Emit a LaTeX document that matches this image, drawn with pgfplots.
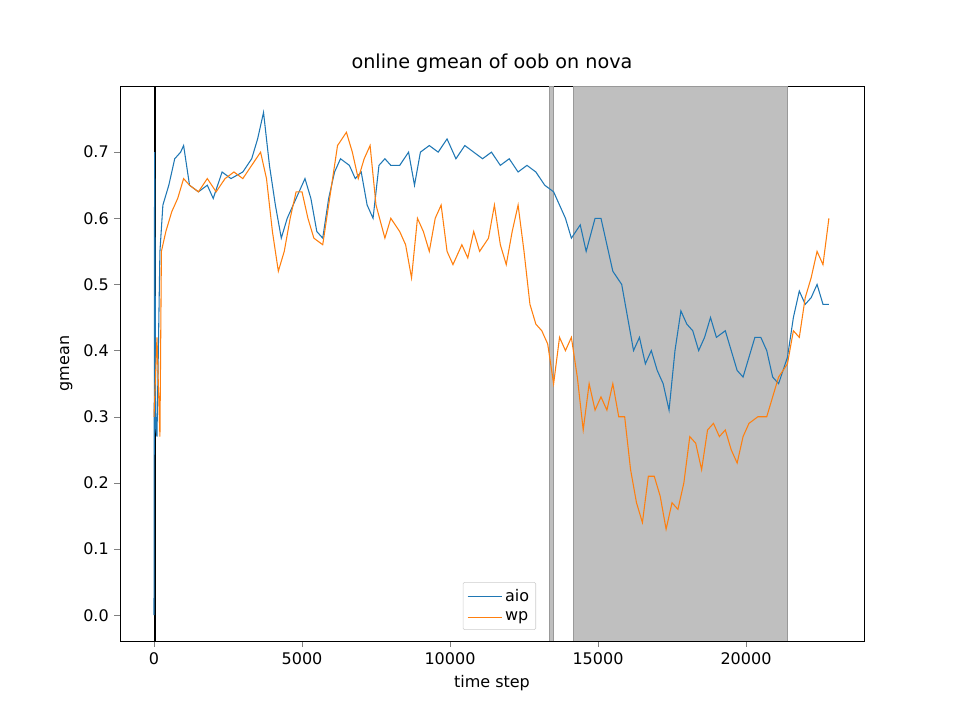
\documentclass[border=0pt]{standalone}
\usepackage{pgfplots}
\pgfplotsset{compat=1.18}
\usepackage{fontspec}
\setmainfont{DejaVu Sans}
\definecolor{mblue}{HTML}{1F77B4}
\definecolor{morange}{HTML}{FF7F0E}
\begin{document}
\fontsize{12}{14}\selectfont
\begin{tikzpicture}
\path (-90pt,-59.25pt) rectangle (630pt,480.75pt);
\begin{axis}[
  at={(0,0)}, anchor=south west, scale only axis,
  width=558pt, height=416.25pt,
  xmin=-1149, xmax=23986, ymin=-0.039, ymax=0.800,
  xtick={0,5000,10000,15000,20000},
  ytick={0,0.1,0.2,0.3,0.4,0.5,0.6,0.7},
  yticklabel style={/pgf/number format/.cd,fixed,fixed zerofill,precision=1},
  /pgf/number format/assume math mode=true,
  ticklabel style={font=\fontsize{12}{14}\selectfont},
  label style={font=\fontsize{12}{14}\selectfont},
  scaled x ticks=false,
  xticklabel style={/pgf/number format/1000 sep={}},
  tick align=outside, tick pos=left,
  xlabel={time step}, ylabel={gmean},
  title={online gmean of oob on nova},
  title style={font=\fontsize{14.4}{16}\selectfont},
  legend style={at={(0.51,0.02)}, anchor=south, draw=black!20, rounded corners=1pt, font=\fontsize{12}{14}\selectfont, inner sep=3pt, row sep=2pt},
  legend image post style={xscale=1.5},
  legend cell align=left,
]
\addplot[fill=gray!50, draw=gray!80, forget plot] coordinates {(13345,-0.039) (13480,-0.039) (13480,0.8) (13345,0.8)} -- cycle;
\addplot[fill=gray!50, draw=gray!80, forget plot] coordinates {(14155,-0.039) (21385,-0.039) (21385,0.8) (14155,0.8)} -- cycle;
\addplot[black, line width=1.5pt, forget plot] coordinates {(30,-0.039) (30,0.8)};
\addplot[mblue, line width=0.8pt] coordinates {
(0,0.0)(20,0.7)(60,0.28)(100,0.27)(200,0.55)(300,0.62)(500,0.65)(700,0.69)(900,0.70)(1000,0.71)(1200,0.65)(1500,0.64)(1800,0.65)(2000,0.63)(2300,0.67)(2600,0.66)(3000,0.67)(3300,0.69)(3500,0.72)(3700,0.76)(3900,0.68)(4100,0.62)(4300,0.57)(4500,0.60)(4800,0.63)(5100,0.66)(5300,0.63)(5500,0.58)(5700,0.57)(5900,0.63)(6100,0.67)(6300,0.69)(6600,0.68)(6800,0.66)(7000,0.67)(7200,0.62)(7400,0.60)(7600,0.68)(7800,0.69)(8000,0.68)(8300,0.68)(8600,0.70)(8800,0.65)(9000,0.70)(9300,0.71)(9600,0.70)(9900,0.72)(10200,0.69)(10500,0.71)(10800,0.70)(11100,0.69)(11400,0.70)(11700,0.68)(12000,0.69)(12300,0.67)(12600,0.68)(12900,0.67)(13200,0.65)(13500,0.64)(13700,0.62)(13900,0.60)(14100,0.57)(14400,0.59)(14600,0.55)(14900,0.60)(15100,0.60)(15300,0.56)(15500,0.52)(15800,0.50)(16000,0.45)(16200,0.40)(16400,0.42)(16600,0.38)(16800,0.40)(17000,0.37)(17200,0.35)(17400,0.31)(17600,0.40)(17800,0.46)(18000,0.44)(18200,0.43)(18400,0.40)(18600,0.42)(18800,0.45)(19000,0.42)(19300,0.43)(19500,0.40)(19700,0.37)(19900,0.36)(20100,0.39)(20300,0.42)(20500,0.42)(20700,0.40)(20900,0.36)(21100,0.35)(21400,0.39)(21600,0.45)(21800,0.49)(22000,0.47)(22200,0.48)(22400,0.50)(22600,0.47)(22800,0.47)};
\addlegendentry{aio}
\addplot[morange, line width=0.8pt] coordinates {
(0,0.3)(100,0.42)(200,0.27)(250,0.55)(400,0.58)(600,0.61)(800,0.63)(1000,0.66)(1200,0.65)(1500,0.64)(1800,0.66)(2100,0.64)(2400,0.66)(2700,0.67)(3000,0.66)(3300,0.68)(3600,0.70)(3800,0.66)(4000,0.58)(4200,0.52)(4400,0.55)(4600,0.60)(4800,0.64)(5000,0.64)(5200,0.60)(5400,0.57)(5700,0.56)(6000,0.65)(6200,0.71)(6500,0.73)(6700,0.70)(6900,0.66)(7100,0.69)(7300,0.71)(7500,0.62)(7800,0.57)(8000,0.60)(8300,0.58)(8500,0.56)(8700,0.51)(8900,0.60)(9100,0.58)(9300,0.55)(9500,0.60)(9700,0.62)(9900,0.55)(10100,0.53)(10400,0.56)(10600,0.54)(10800,0.58)(11000,0.55)(11300,0.57)(11500,0.62)(11700,0.56)(11900,0.53)(12100,0.58)(12300,0.62)(12500,0.55)(12700,0.47)(12900,0.44)(13100,0.43)(13300,0.41)(13500,0.35)(13700,0.42)(13900,0.40)(14100,0.42)(14300,0.36)(14500,0.28)(14700,0.35)(14900,0.31)(15100,0.33)(15300,0.31)(15500,0.35)(15700,0.30)(15900,0.30)(16100,0.22)(16300,0.17)(16500,0.14)(16700,0.21)(16900,0.21)(17100,0.18)(17300,0.13)(17500,0.17)(17700,0.16)(17900,0.20)(18100,0.27)(18300,0.26)(18500,0.22)(18700,0.28)(18900,0.29)(19100,0.27)(19300,0.28)(19500,0.25)(19700,0.23)(19900,0.27)(20100,0.29)(20400,0.30)(20700,0.30)(20900,0.33)(21100,0.36)(21400,0.38)(21600,0.43)(21800,0.42)(22000,0.48)(22200,0.51)(22400,0.55)(22600,0.53)(22800,0.60)};
\addlegendentry{wp}
\end{axis}
\end{tikzpicture}
\end{document}
